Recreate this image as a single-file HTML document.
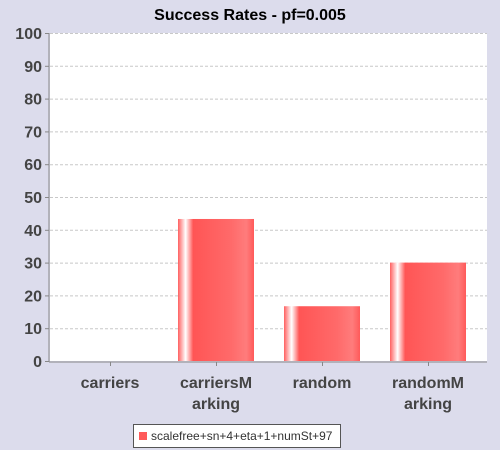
<!DOCTYPE html>
<html><head><style>
body{margin:0;background:#dcdcec;font-family:"Liberation Sans",sans-serif;}
svg{display:block}
</style></head><body>
<svg width="500" height="450">
<defs>
<linearGradient id="g" x1="0" x2="1" y1="0" y2="0">
<stop offset="0" stop-color="#ff6060"/>
<stop offset="0.1" stop-color="#ffffff"/>
<stop offset="0.2" stop-color="#ff5555"/>
<stop offset="0.7" stop-color="#ff6a6a"/>
<stop offset="0.9" stop-color="#ff7c7c"/>
<stop offset="1" stop-color="#ff5a5a"/>
</linearGradient>
</defs>
<rect x="0" y="0" width="500" height="450" fill="#dcdcec"/>
<text x="250" y="20" text-anchor="middle" font-size="16" font-weight="bold" fill="#000">Success Rates - pf=0.005</text>
<rect x="50" y="33" width="437" height="328" fill="#fff"/>
<g id="grid"></g>
<g id="bars"></g>
<line x1="49" y1="33" x2="49" y2="362" stroke="#888"/>
<line x1="49" y1="362" x2="487" y2="362" stroke="#888"/>
<g id="yt"></g>
<g id="xt"></g>
<rect x="133.5" y="424.5" width="207" height="23" fill="#fff" stroke="#555"/>
<rect x="139" y="432" width="8" height="8" fill="#ff5a5a"/>
<text x="151" y="440" font-size="12" fill="#333">scalefree+sn+4+eta+1+numSt+97</text>
</svg>
<script>
const categories=[["carriers"],["carriersM","arking"],["random"],["randomM","arking"]];
const values=[0,43.3,16.7,30];
const yTicks=[0,10,20,30,40,50,60,70,80,90,100];
const NS="http://www.w3.org/2000/svg";
const y=v=>361-v*3.28;
const cx=i=>110+i*106;
function mk(t,a,p){const e=document.createElementNS(NS,t);for(const k in a)e.setAttribute(k,a[k]);p.appendChild(e);return e;}
const grid=document.getElementById('grid'),yt=document.getElementById('yt'),xt=document.getElementById('xt'),bars=document.getElementById('bars');
yTicks.forEach(v=>{
 if(v>0){const l=mk('line',{x1:50,x2:487,y1:y(v)+0.5,y2:y(v)+0.5,stroke:'#c8c8c8','stroke-dasharray':'3,2'},grid);
 
 }
 const tk=mk('line',{x1:45,x2:49,y1:y(v)+0.5,y2:y(v)+0.5,stroke:'#888'},yt);
 
 
 const t=mk('text',{x:42,y:y(v)+6,'text-anchor':'end','font-size':16,'font-weight':'bold',fill:'#444'},yt);t.textContent=v;
 
 
});
values.forEach((v,i)=>{
 if(v>0){const r=mk('rect',{x:cx(i)-38,y:y(v),width:76,height:361-y(v),fill:'url(#g)'},bars);
 
 }
 const tk=mk('line',{x1:cx(i)+0.5,x2:cx(i)+0.5,y1:362,y2:366,stroke:'#888'},xt);
 
 
 categories[i].forEach((s,j)=>{const t=mk('text',{x:cx(i),y:388+j*21,'text-anchor':'middle','font-size':16,'font-weight':'bold',fill:'#444'},xt);t.textContent=s;
 
 });
});
</script>
</body></html>
